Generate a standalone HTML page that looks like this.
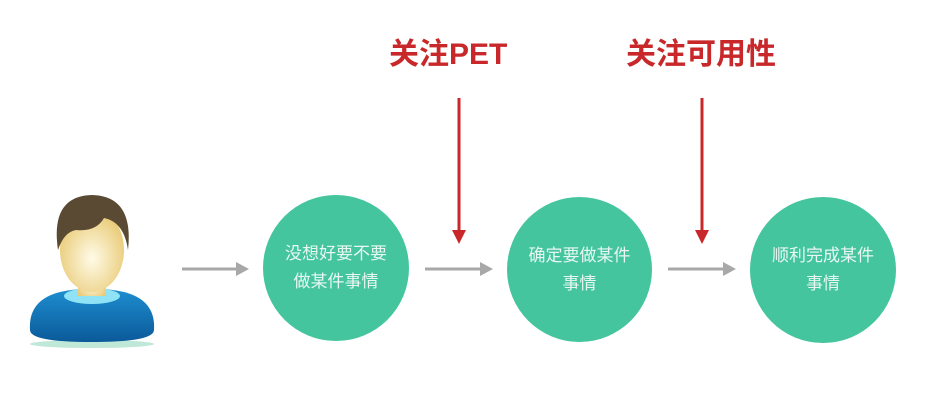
<!DOCTYPE html>
<html><head><meta charset="utf-8"><style>
html,body{margin:0;padding:0;background:#fff;}
body{width:945px;height:414px;position:relative;overflow:hidden;font-family:"Liberation Sans","Noto Sans CJK SC",sans-serif;}
.c{position:absolute;border-radius:50%;background:#44c59e;color:#e8f7f1;font-size:17px;line-height:28px;text-align:center;display:flex;align-items:center;justify-content:center;}
.t{position:absolute;color:#c8282a;font-weight:bold;font-size:30px;white-space:nowrap;}
</style></head><body>
<svg width="945" height="414" style="position:absolute;left:0;top:0">
<defs>
<radialGradient id="face" cx="50%" cy="60%" r="60%"><stop offset="0" stop-color="#fffbe8"/><stop offset="1" stop-color="#e8c870"/></radialGradient>
<linearGradient id="shirt" x1="0" y1="0" x2="0" y2="1"><stop offset="0" stop-color="#1e8fd0"/><stop offset="1" stop-color="#0b5a9a"/></linearGradient>
</defs>
<ellipse cx="92" cy="344" rx="62" ry="4" fill="#bfe8d8"/>
<path d="M30 330 Q28 300 60 292 Q92 285 124 292 Q156 300 154 330 Q154 342 92 342 Q30 342 30 330 Z" fill="url(#shirt)"/>
<ellipse cx="92" cy="296" rx="28" ry="8" fill="#8fe3f5"/>
<rect x="78" y="270" width="28" height="26" fill="url(#face)"/>
<ellipse cx="92" cy="250" rx="32" ry="42" fill="url(#face)"/>
<path d="M58 250 Q50 196 92 195 Q134 196 128 250 Q124 222 104 218 Q96 232 76 230 Q64 232 58 250 Z" fill="#5a4a33"/>
<g stroke="#a8a8a8" stroke-width="3" fill="#a8a8a8">
<line x1="182" y1="269" x2="236" y2="269"/><polygon points="236,262 249,269 236,276" stroke="none"/>
<line x1="425" y1="269" x2="480" y2="269"/><polygon points="480,262 493,269 480,276" stroke="none"/>
<line x1="668" y1="269" x2="723" y2="269"/><polygon points="723,262 736,269 723,276" stroke="none"/>
</g>
<g stroke="#c8282a" stroke-width="3" fill="#c8282a">
<line x1="459" y1="98" x2="459" y2="230"/><polygon points="452,230 459,244 466,230" stroke="none"/>
<line x1="702" y1="98" x2="702" y2="230"/><polygon points="695,230 702,244 709,230" stroke="none"/>
</g>
</svg>
<div class="t" style="left:389px;top:29px">关注PET</div>
<div class="t" style="left:626px;top:29px">关注可用性</div>
<div class="c" style="left:263px;top:195px;width:146px;height:146px">没想好要不要<br>做某件事情</div>
<div class="c" style="left:507px;top:197px;width:145px;height:145px">确定要做某件<br>事情</div>
<div class="c" style="left:750px;top:197px;width:146px;height:146px">顺利完成某件<br>事情</div>
</body></html>
